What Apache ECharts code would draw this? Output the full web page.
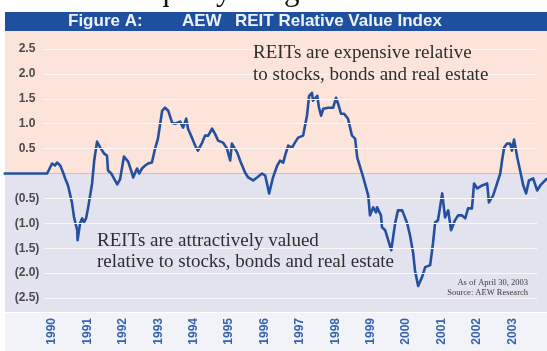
<!DOCTYPE html>
<html>
<head>
<meta charset="utf-8">
<script src="https://cdn.jsdelivr.net/npm/echarts@6/dist/echarts.min.js"></script>
<style>
html,body{margin:0;padding:0;background:#ffffff;}
#chart{width:547px;height:351px;}
</style>
</head>
<body>
<div id="chart"></div>
<script>
// ---- data ----
const years = [1988.67, 1989.86, 1990.00, 1990.08, 1990.14, 1990.23, 1990.31, 1990.37, 1990.42, 1990.45,
  1990.56, 1990.62, 1990.71, 1990.72, 1990.79, 1990.85, 1990.90, 1990.96, 1991.02, 1991.13,
  1991.19, 1991.27, 1991.36, 1991.47, 1991.55, 1991.58, 1991.67, 1991.84, 1991.92, 1992.03,
  1992.15, 1992.26, 1992.29, 1992.40, 1992.46, 1992.54, 1992.63, 1992.71, 1992.82, 1992.91,
  1992.99, 1993.11, 1993.19, 1993.28, 1993.39, 1993.47, 1993.62, 1993.70, 1993.79, 1993.84,
  1993.95, 1994.04, 1994.12, 1994.24, 1994.32, 1994.41, 1994.52, 1994.60, 1994.69, 1994.83,
  1994.94, 1995.03, 1995.08, 1995.23, 1995.31, 1995.45, 1995.54, 1995.68, 1995.79, 1995.93,
  1996.02, 1996.07, 1996.13, 1996.24, 1996.36, 1996.44, 1996.53, 1996.58, 1996.67, 1996.78,
  1996.86, 1996.95, 1997.09, 1997.20, 1997.26, 1997.34, 1997.37, 1997.49, 1997.54, 1997.60,
  1997.66, 1997.80, 1997.94, 1998.02, 1998.08, 1998.16, 1998.25, 1998.36, 1998.47, 1998.56,
  1998.62, 1998.79, 1998.93, 1998.98, 1999.07, 1999.15, 1999.18, 1999.29, 1999.32, 1999.41,
  1999.52, 1999.58, 1999.69, 1999.77, 1999.89, 2000.03, 2000.11, 2000.20, 2000.25, 2000.34,
  2000.45, 2000.54, 2000.68, 2000.76, 2000.82, 2000.90, 2001.02, 2001.10, 2001.19, 2001.27,
  2001.38, 2001.47, 2001.58, 2001.67, 2001.75, 2001.86, 2001.92, 2002.01, 2002.15, 2002.29,
  2002.34, 2002.46, 2002.57, 2002.66, 2002.71, 2002.77, 2002.85, 2002.94, 2002.99, 2003.05,
  2003.14, 2003.22, 2003.31, 2003.39, 2003.47, 2003.59, 2003.70, 2003.79, 2003.98];

const indexValues = [0, 0, 0.20, 0.16, 0.22, 0.16, 0.02, -0.10, -0.12, -0.24,
  -0.58, -0.88, -1.14, -1.34, -1.00, -0.90, -0.98, -0.90, -0.68, -0.20,
  0.26, 0.64, 0.52, 0.40, 0.36, 0.06, 0.00, -0.22, -0.12, 0.34,
  0.24, 0.00, -0.08, 0.10, 0.00, 0.10, 0.16, 0.20, 0.22, 0.50,
  0.70, 1.26, 1.32, 1.26, 1.02, 1.00, 1.04, 0.92, 1.10, 0.90,
  0.72, 0.56, 0.46, 0.62, 0.76, 0.76, 0.90, 0.80, 0.66, 0.62,
  0.50, 0.26, 0.60, 0.42, 0.26, 0.02, -0.08, -0.14, -0.08, 0.00,
  -0.04, -0.20, -0.40, -0.08, 0.16, 0.26, 0.22, 0.36, 0.56, 0.52,
  0.62, 0.72, 0.76, 1.16, 1.56, 1.62, 1.46, 1.56, 1.32, 1.16,
  1.30, 1.32, 1.32, 1.52, 1.40, 1.20, 1.20, 1.10, 0.76, 0.70,
  0.32, -0.08, -0.44, -0.84, -0.68, -0.78, -0.68, -0.84, -1.08, -1.14,
  -1.40, -1.54, -1.00, -0.74, -0.74, -1.00, -1.24, -1.60, -1.94, -2.26,
  -2.08, -1.88, -1.84, -1.40, -0.98, -0.94, -0.40, -0.88, -0.74, -1.14,
  -0.94, -0.84, -0.84, -0.90, -0.70, -0.70, -0.20, -0.30, -0.24, -0.20,
  -0.58, -0.44, -0.20, 0.00, 0.26, 0.52, 0.60, 0.60, 0.46, 0.68,
  0.32, 0.06, -0.24, -0.40, -0.14, -0.10, -0.34, -0.24, -0.10];

const yearLabels = [1990, 1991, 1992, 1993, 1994, 1995, 1996, 1997, 1998, 1999, 2000, 2001, 2002, 2003];
const valueTicks = [-2.5, -2.0, -1.5, -1.0, -0.5, 0.5, 1.0, 1.5, 2.0, 2.5];

const titleParts = ['Figure A:', 'AEW', 'REIT Relative Value Index'];
const noteHigh = 'REITs are expensive relative\nto stocks, bonds and real estate';
const noteLow = 'REITs are attractively valued\nrelative to stocks, bonds and real estate';
const sourceNote = 'As of April 30, 2003\nSource: AEW Research';
const bodyText = 'es are then equally weighted to create the i';

// ---- chart ----
const X_MIN = 1988.67, X_MAX = 2003.98;
const Y_MIN = -2.78, Y_MAX = 2.86;
const GRID_X0 = 1989.77, GRID_X1 = 2003.70;

const lineData = years.map((y, i) => [y, indexValues[i]]);
const gridLines = valueTicks.map(v => [{coord: [GRID_X0, v]}, {coord: [GRID_X1, v]}]);

const chart = echarts.init(document.getElementById('chart'), null, {renderer: 'canvas'});
const serif = '"Liberation Serif", "Times New Roman", serif';
const sans = '"Liberation Sans", Arial, sans-serif';
const narrow = '"Liberation Sans Narrow", "Arial Narrow", "Liberation Sans", Arial, sans-serif';

chart.setOption({
  animation: false,
  backgroundColor: '#ffffff',
  grid: {left: 5, right: 0, top: 31, bottom: 39, containLabel: false},
  xAxis: {
    type: 'value', min: X_MIN, max: X_MAX,
    axisLine: {show: true, lineStyle: {color: '#2d5aa8', width: 3}},
    axisTick: {show: false},
    splitLine: {show: false},
    axisLabel: {
      customValues: yearLabels,
      rotate: 90, margin: 6,
      color: '#3563b2', fontWeight: 'bold', fontSize: 12, fontFamily: narrow,
      formatter: v => String(Math.round(v))
    }
  },
  yAxis: {
    type: 'value', min: Y_MIN, max: Y_MAX,
    axisLine: {show: false},
    axisTick: {show: false},
    splitLine: {show: false},
    axisLabel: {
      customValues: valueTicks,
      inside: true, margin: 22, align: 'center',
      color: '#4b4b4b', fontWeight: 'bold', fontSize: 12, fontFamily: narrow,
      formatter: v => v < 0 ? '(' + Math.abs(v).toFixed(1) + ')' : v.toFixed(1)
    },
    z: 5
  },
  series: [
    {
      type: 'line', data: [], z: 1, silent: true,
      markArea: {
        silent: true,
        data: [
          [{yAxis: 0, itemStyle: {color: '#fce4da'}}, {yAxis: Y_MAX}],
          [{yAxis: Y_MIN, itemStyle: {color: '#e3e3f0'}}, {yAxis: 0}]
        ]
      },
      markLine: {
        silent: true, symbol: 'none', label: {show: false},
        lineStyle: {color: '#fbf8f8', width: 1.2, type: 'solid'},
        data: gridLines
      }
    },
    {
      type: 'line', data: lineData, z: 3, silent: true,
      showSymbol: false, symbol: 'none',
      lineStyle: {color: '#24509f', width: 2.6, join: 'round'}
    }
  ],
  graphic: [
    {type: 'rect', z: -100, shape: {x: 5, y: 313, width: 542, height: 38}, style: {fill: '#f2f3f9'}},
    {type: 'text', z: 100, x: 0, y: -8, style: {text: bodyText, font: '31px ' + serif, fill: '#111111', textVerticalAlign: 'middle'}},
    {type: 'rect', z: 100, shape: {x: 5, y: 12, width: 542, height: 19}, style: {fill: '#1f4f9f'}},
    {type: 'text', z: 101, x: 68, y: 21, style: {text: titleParts[0], font: 'bold 17px ' + sans, fill: '#eef3fb', textVerticalAlign: 'middle'}},
    {type: 'text', z: 101, x: 182, y: 21, style: {text: titleParts[1], font: 'bold 17px ' + sans, fill: '#eef3fb', textVerticalAlign: 'middle'}},
    {type: 'text', z: 101, x: 235, y: 21, style: {text: titleParts[2], font: 'bold 17px ' + sans, fill: '#eef3fb', textVerticalAlign: 'middle'}},
    {type: 'text', z: 100, x: 253, y: 42, style: {text: noteHigh, font: '19px ' + serif, fill: '#2e2e2e', lineHeight: 22, textVerticalAlign: 'top'}},
    {type: 'text', z: 100, x: 97, y: 230.5, style: {text: noteLow, font: '19px ' + serif, fill: '#2e2e2e', lineHeight: 21, textVerticalAlign: 'top'}},
    {type: 'text', z: 100, x: 528, y: 278, style: {text: sourceNote, font: '8.5px ' + serif, fill: '#3a3a3a', lineHeight: 10, textAlign: 'right', textVerticalAlign: 'top'}}
  ]
});
</script>
</body>
</html>
